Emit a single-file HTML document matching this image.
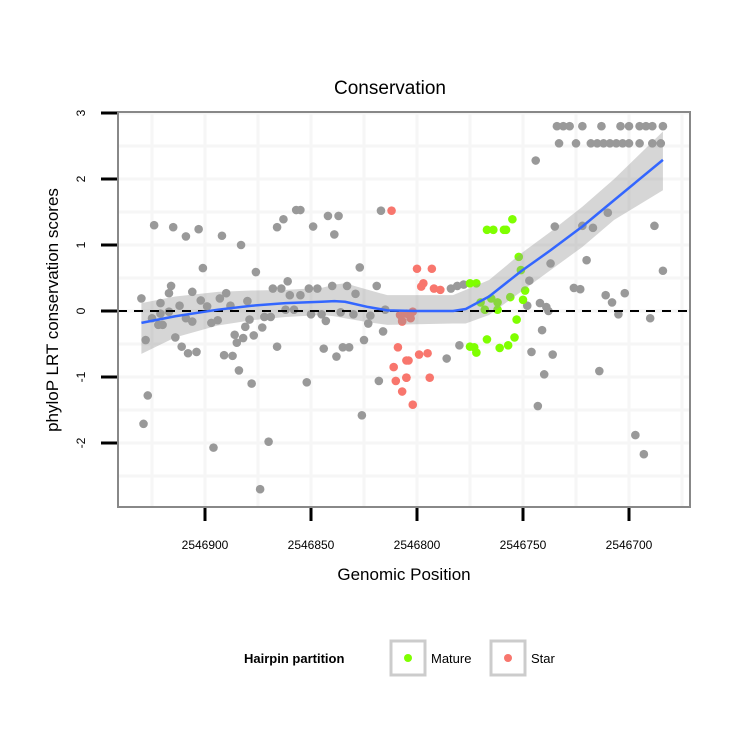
<!DOCTYPE html>
<html><head><meta charset="utf-8"><style>
body{margin:0;background:#fff;font-family:"Liberation Sans",sans-serif}
</style></head><body>
<svg id="c" width="750" height="750" xmlns="http://www.w3.org/2000/svg"></svg>
<script>
const grayPos=[2546924,2546915,2546909,2546903,2546892,2546883,2546901,2546876,2546866,2546863,2546857,2546855,2546849,2546842,2546837,2546839,2546827,2546819,2546930,2546916,2546917,2546906,2546921,2546925,2546921,2546917,2546912,2546922,2546920,2546902,2546899,2546893,2546890,2546880,2546888,2546909,2546906,2546897,2546894,2546879,2546872,2546869,2546868,2546864,2546861,2546860,2546855,2546851,2546847,2546840,2546833,2546829,2546862,2546858,2546850,2546845,2546843,2546836,2546830,2546815,2546822,2546823,2546816,2546825,2546928,2546914,2546911,2546908,2546904,2546891,2546887,2546886,2546882,2546885,2546881,2546877,2546873,2546866,2546844,2546838,2546835,2546832,2546884,2546878,2546852,2546818,2546927,2546929,2546826,2546896,2546870,2546874,2546817,
2546734,2546731,2546728,2546722,2546713,2546704,2546700,2546695,2546692,2546689,2546684,
2546733,2546725,2546718,2546715,2546712,2546709,2546706,2546703,2546700,2546695,2546689,2546685,
2546744,2546710,2546735,2546722,2546717,2546688,2546737,2546720,2546684,2546747,2546726,2546723,2546711,2546702,2546708,2546742,2546739,2546738,2546705,2546690,2546748,2546741,2546784,2546781,2546778,2546780,2546786,2546746,2546736,2546740,2546714,2546743,2546697,2546693];
const grayVal=[1.30,1.27,1.13,1.24,1.14,1.00,0.65,0.59,1.27,1.39,1.53,1.53,1.28,1.44,1.44,1.16,0.66,0.38,0.19,0.38,0.27,0.29,0.12,-0.11,-0.04,-0.01,0.08,-0.21,-0.21,0.16,0.07,0.19,0.27,0.15,0.08,-0.11,-0.16,-0.18,-0.14,-0.13,-0.09,-0.09,0.34,0.34,0.45,0.24,0.24,0.34,0.34,0.38,0.38,0.26,0.02,0.02,-0.05,-0.05,-0.15,-0.02,-0.05,0.02,-0.07,-0.19,-0.31,-0.44,-0.44,-0.40,-0.54,-0.64,-0.62,-0.67,-0.68,-0.36,-0.41,-0.48,-0.24,-0.37,-0.25,-0.54,-0.57,-0.69,-0.55,-0.55,-0.90,-1.10,-1.08,-1.06,-1.28,-1.71,-1.58,-2.07,-1.98,-2.70,1.52,
2.80,2.80,2.80,2.80,2.80,2.80,2.80,2.80,2.80,2.80,2.80,
2.54,2.54,2.54,2.54,2.54,2.54,2.54,2.54,2.54,2.54,2.54,2.54,
2.28,1.49,1.28,1.29,1.26,1.29,0.72,0.77,0.61,0.46,0.35,0.33,0.24,0.27,0.13,0.12,0.06,0.00,-0.05,-0.11,0.08,-0.29,0.34,0.38,0.40,-0.52,-0.72,-0.62,-0.66,-0.96,-0.91,-1.44,-1.88,-2.17];
const starPos=[2546812,2546809,2546805,2546811,2546810,2546805,2546807,2546807,2546808,2546800,2546793,2546797,2546798,2546792,2546789,2546805,2546802,2546803,2546807,2546804,2546799,2546795,2546805,2546794,2546802];
const starVal=[1.52,-0.55,-0.75,-0.85,-1.06,-1.01,-1.22,-0.15,-0.06,0.64,0.64,0.42,0.37,0.34,0.32,-0.04,-0.01,-0.11,-0.16,-0.75,-0.66,-0.64,-1.01,-1.01,-1.42];
const maturePos=[2546755,2546767,2546764,2546759,2546758,2546752,2546751,2546775,2546772,2546770,2546765,2546762,2546768,2546762,2546756,2546749,2546750,2546753,2546767,2546754,2546775,2546773,2546772,2546761,2546757];
const matureVal=[1.39,1.23,1.23,1.23,1.23,0.82,0.62,0.42,0.42,0.13,0.19,0.13,0.02,0.02,0.21,0.31,0.17,-0.13,-0.43,-0.40,-0.54,-0.55,-0.63,-0.56,-0.52];
const smoothPos=[2546930,2546914,2546894,2546878,2546862,2546845,2546839,2546834,2546823,2546814,2546800,2546783,2546777,2546766,2546751,2546737,2546722,2546707,2546684];
const smoothFit=[-0.18,-0.08,0.02,0.08,0.12,0.14,0.15,0.14,0.06,0.01,0.0,0.0,0.03,0.22,0.60,0.92,1.28,1.68,2.29];
const smoothLo=[-0.65,-0.40,-0.22,-0.14,-0.09,-0.06,-0.08,-0.11,-0.17,-0.21,-0.20,-0.19,-0.19,-0.06,0.29,0.62,0.97,1.38,1.83];
const smoothHi=[0.12,0.22,0.29,0.31,0.32,0.35,0.40,0.42,0.32,0.24,0.24,0.24,0.32,0.47,0.87,1.20,1.58,2.00,2.72];
const xTicks=[2546900,2546850,2546800,2546750,2546700];
const yTicks=[3,2,1,0,-1,-2];

const NS="http://www.w3.org/2000/svg";
const svg=document.getElementById('c');
const L=118,R=690,T=112,B=507;
const X=v=>205+(2546900-v)*106/50;
const Y=v=>311-v*66;
function mk(t,a,p){const e=document.createElementNS(NS,t);for(const k in a)e.setAttribute(k,a[k]);(p||svg).appendChild(e);return e;}

const panel=mk('rect',{x:L,y:T,width:R-L,height:B-T,fill:'#fff'});


for(let v=2546925;v>=2546675;v-=25){const g=mk('line',{x1:X(v),x2:X(v),y1:T,y2:B,stroke:'#f6f6f6','stroke-width':3});

}
for(let v=3;v>=-2.5;v-=0.5){const g=mk('line',{x1:L,x2:R,y1:Y(v),y2:Y(v),stroke:'#f6f6f6','stroke-width':3});

}
function pts(P,V,col,name){P.forEach((p,i)=>{const c=mk('circle',{cx:X(p),cy:Y(V[i]),r:4.3,fill:col});

});}
pts(grayPos,grayVal,'#999999','point-other');
pts(starPos,starVal,'#f8766d','point-star');
pts(maturePos,matureVal,'#7fff00','point-mature');
let d='M'+smoothPos.map((p,i)=>X(p)+','+Y(smoothHi[i])).join('L');
for(let i=smoothPos.length-1;i>=0;i--)d+='L'+X(smoothPos[i])+','+Y(smoothLo[i]);
const band=mk('path',{d:d+'Z',fill:'#999','fill-opacity':0.4});


const zl=mk('line',{x1:L,x2:R,y1:Y(0),y2:Y(0),stroke:'#000','stroke-width':2,'stroke-dasharray':'9,7'});


const sl=mk('polyline',{points:smoothPos.map((p,i)=>X(p)+','+Y(smoothFit[i])).join(' '),fill:'none',stroke:'#3366ff','stroke-width':2.5,'stroke-linejoin':'round'});


const bd=mk('rect',{x:L,y:T,width:R-L,height:B-T,fill:'none',stroke:'#888','stroke-width':2});


xTicks.forEach(v=>{const t=mk('line',{x1:X(v),x2:X(v),y1:B+1,y2:B+14,stroke:'#000','stroke-width':3});


const l=mk('text',{x:X(v),y:549,'text-anchor':'middle','font-size':12});l.textContent=v;

});
yTicks.forEach(v=>{const t=mk('line',{x1:101,x2:L-1,y1:Y(v),y2:Y(v),stroke:'#000','stroke-width':3});


const l=mk('text',{x:0,y:0,'text-anchor':'middle','font-size':12,transform:`translate(85,${Y(v)}) rotate(-90)`});l.textContent=v;

});
</script>
<svg width="750" height="750" style="position:absolute;left:0;top:0" xmlns="http://www.w3.org/2000/svg">
<text x="390" y="94" text-anchor="middle" font-size="19" font-family="Liberation Sans">Conservation</text>
<text x="404" y="580" text-anchor="middle" font-size="17" font-family="Liberation Sans">Genomic Position</text>
<text transform="translate(58,310) rotate(-90)" text-anchor="middle" font-size="17" font-family="Liberation Sans">phyloP LRT conservation scores</text>
<text x="244" y="663" font-size="13" font-weight="bold" font-family="Liberation Sans">Hairpin partition</text>
<g>
<rect x="391" y="641" width="34" height="34" fill="#fff" stroke="#ccc" stroke-width="3"/>
<circle cx="408" cy="658" r="4" fill="#7fff00"/>
<text x="431" y="663" font-size="13" font-family="Liberation Sans">Mature</text></g>
<g>
<rect x="491" y="641" width="34" height="34" fill="#fff" stroke="#ccc" stroke-width="3"/>
<circle cx="508" cy="658" r="4" fill="#f8766d"/>
<text x="531" y="663" font-size="13" font-family="Liberation Sans">Star</text></g>
</svg>
</body></html>
